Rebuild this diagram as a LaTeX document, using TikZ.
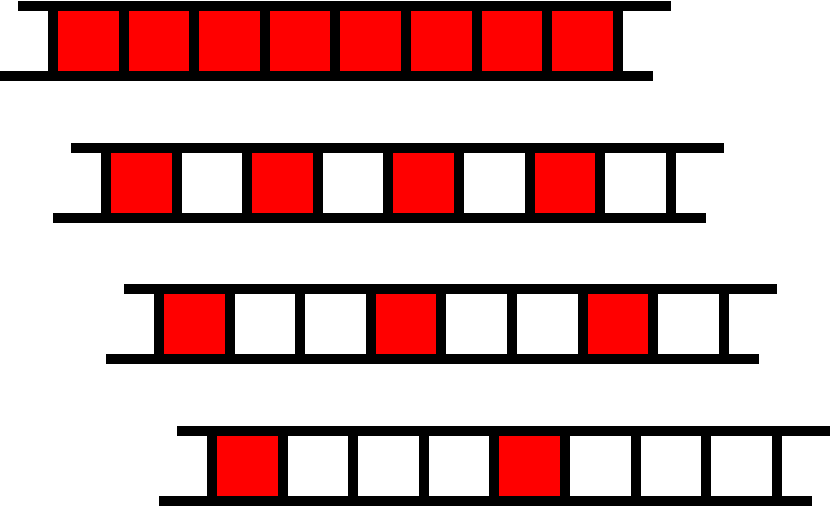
\documentclass[tikz,border=0pt]{standalone}
\begin{document}
\begin{tikzpicture}[x=1pt,y=-1pt,
  bar/.style={line width=10pt,line cap=butt,draw=black},
  cell/.style={fill=red}]
\useasboundingbox (0,0) rectangle (830,506);
\def\sp{70.6}
% ladder index, red cells
\foreach \i/\reds in {0/{0,1,2,3,4,5,6,7},1/{0,2,4,6},2/{0,3,6},3/{0,4}}{
  \pgfmathsetmacro{\dx}{53*\i}
  \pgfmathsetmacro{\dy}{141.7*\i}
  \foreach \k in \reds {
    \fill[cell] ({53+\dx+\sp*\k},{6+\dy}) rectangle ({53+\dx+\sp*(\k+1)},{76+\dy});
  }
  \foreach \k in {0,...,8} {
    \draw[bar] ({53+\dx+\sp*\k},{6+\dy}) -- ({53+\dx+\sp*\k},{76+\dy});
  }
  \draw[bar] ({18+\dx},{6+\dy}) -- ({671+\dx},{6+\dy});
  \draw[bar] ({0+\dx},{76+\dy}) -- ({653+\dx},{76+\dy});
}
\end{tikzpicture}
\end{document}
